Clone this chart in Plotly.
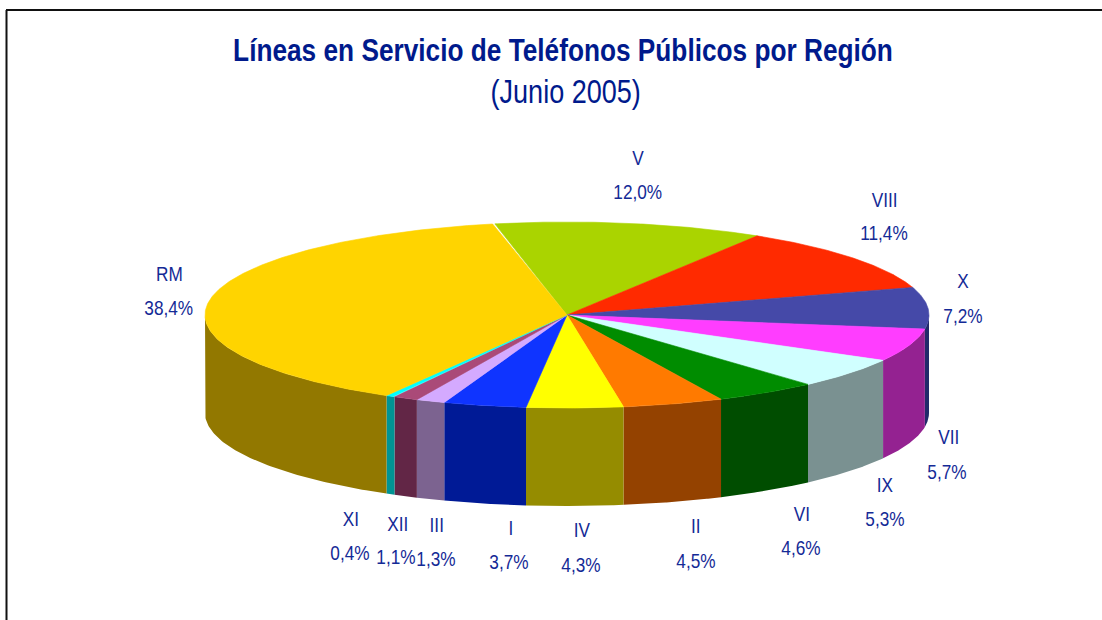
import numpy as np
import plotly.graph_objects as go

regions = ["V", "VIII", "X", "VII", "IX", "VI", "II", "IV", "I", "III", "XII", "XI", "RM"]
shares = [12.0, 11.4, 7.2, 5.7, 5.3, 4.6, 4.5, 4.3, 3.7, 1.3, 1.1, 0.4, 38.4]
top_colors = ["#aad400", "#ff2a00", "#4549a8", "#ff3dff", "#d0ffff", "#008c00", "#ff7a00",
              "#ffff00", "#0f34ff", "#d4aaff", "#aa4a78", "#00ffff", "#ffd400"]
side_colors = ["#557000", "#942000", "#222a6a", "#942291", "#7a9191", "#004d00", "#944200",
               "#958c00", "#001a96", "#7c6390", "#622646", "#009494", "#927800"]

# label centres, in chart pixels
label_x = [638, 885, 963, 949, 885, 802, 696, 582, 511, 437, 398, 351, 169]
name_y = [157, 199, 280, 436, 484, 513, 525, 529, 527, 524, 523, 518, 273]
pct_y = [191, 232, 315, 471, 518, 547, 560, 564, 561, 558, 556, 552, 307]
pct_x = [638, 884, 963, 947, 885, 801, 696, 581, 509, 436, 396, 350, 169]

CX, CY, RX, RY, DEPTH, START = 567, 315, 362, 93, 98, -11.5
INK = "#001a8c"
LABEL_INK = "#142a96"
FONT = "Liberation Sans, Arial, sans-serif"


def rim(t):
    r = np.radians(t)
    return CX + RX * np.sin(r), CY - RY * np.cos(r)


fig = go.Figure()
edges = START + 3.6 * np.concatenate([[0], np.cumsum(shares)])

# side walls: only the part of each rim facing the viewer (90 to 270 degrees)
for i, reg in enumerate(regions):
    a, b = max(edges[i], 90), min(edges[i + 1], 270)
    if b <= a:
        continue
    t = np.linspace(a, b, 80)
    x, y = rim(t)
    fig.add_trace(go.Scatter(
        x=np.r_[x, x[::-1]], y=np.r_[y, y[::-1] + DEPTH], mode="lines", fill="toself",
        fillcolor=side_colors[i], line=dict(width=0), hoverinfo="skip", showlegend=False))

# top faces
for i, reg in enumerate(regions):
    t = np.linspace(edges[i], edges[i + 1], max(int(shares[i] * 8), 8))
    x, y = rim(t)
    fig.add_trace(go.Scatter(
        x=np.r_[CX, x, CX], y=np.r_[CY, y, CY], mode="lines", fill="toself",
        fillcolor=top_colors[i], line=dict(width=0.6, color=top_colors[i]), name=reg,
        text=f"{reg}: {shares[i]:.1f}%".replace(".", ","), hoverinfo="text", showlegend=False))

for i, reg in enumerate(regions):
    pct = f"{shares[i]:.1f}%".replace(".", ",")
    for txt, xx, yy in ((reg, label_x[i], name_y[i]), (pct, pct_x[i], pct_y[i])):
        fig.add_annotation(x=xx, y=yy, text=txt, showarrow=False, xanchor="center", yanchor="middle",
                           font=dict(family=FONT, size=21, color=LABEL_INK))

fig.add_annotation(x=565, y=91, text="(Junio 2005)", showarrow=False, xanchor="center", yanchor="middle",
                   font=dict(family=FONT, size=33, color=INK))

fig.update_layout(
    width=1102, height=620, autosize=False,
    margin=dict(l=0, r=0, t=0, b=0),
    paper_bgcolor="white", plot_bgcolor="white",
    title=dict(text="<b>Líneas en Servicio de Teléfonos Públicos por Región</b>",
               x=563 / 1102, xanchor="center", y=1 - 50 / 620, yanchor="middle",
               font=dict(family=FONT, size=32, color=INK)),
    xaxis=dict(range=[0, 1102], visible=False, fixedrange=True),
    yaxis=dict(range=[620, 0], visible=False, fixedrange=True),
    shapes=[
        dict(type="line", xref="paper", yref="paper", x0=6.5 / 1102, x1=6.5 / 1102, y0=0, y1=1 - 10 / 620,
             line=dict(color="#111111", width=2)),
        dict(type="line", xref="paper", yref="paper", x0=6 / 1102, x1=1, y0=1 - 10 / 620, y1=1 - 10 / 620,
             line=dict(color="#111111", width=2)),
    ],
)

# the reference's type is condensed: squeeze each text horizontally about its own centre
POST = """
document.body.style.margin='0';
document.documentElement.style.overflow='hidden';
function squeeze(){
  document.querySelectorAll('.annotation-text, .gtitle').forEach(function(el){
    if(el.dataset.sq) return;
    var bb=el.getBBox(); var cx=bb.x+bb.width/2;
    var old=el.getAttribute('transform')||'';
    el.setAttribute('transform','translate('+cx+' 0) scale(0.82 1) translate('+(-cx)+' 0) '+old);
    el.dataset.sq='1';
  });
}
squeeze();
var gd=document.getElementById('{plot_id}');
if(gd&&gd.on){gd.on('plotly_afterplot',squeeze);}
"""
fig.write_html("out.html", config={"displayModeBar": False}, post_script=POST)
